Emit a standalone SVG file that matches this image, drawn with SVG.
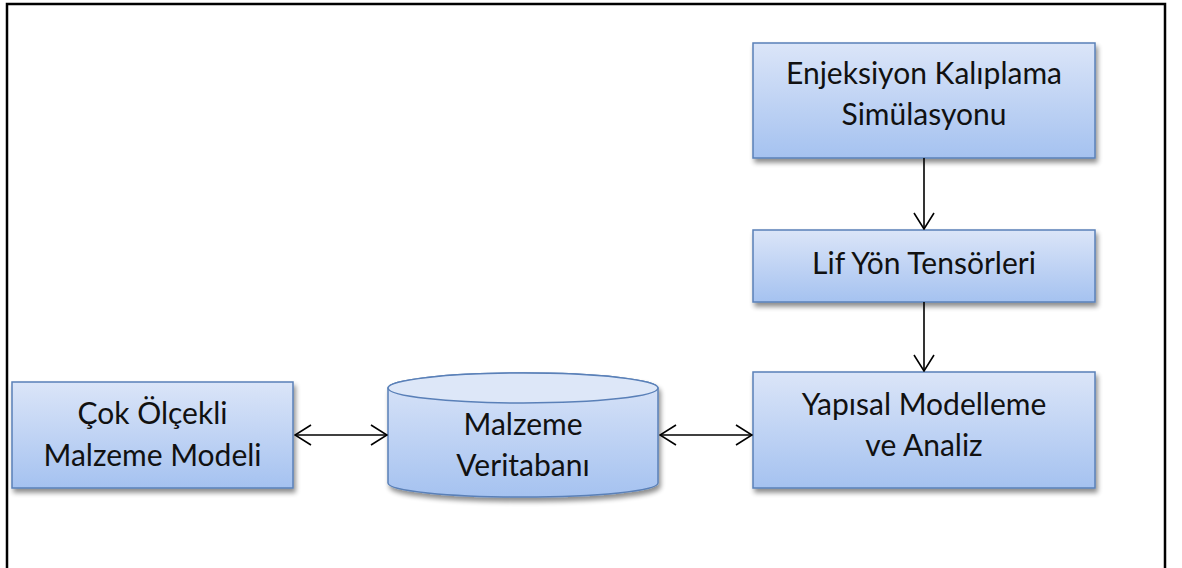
<svg xmlns="http://www.w3.org/2000/svg" width="1182" height="568" viewBox="0 0 1182 568">
<defs>
<linearGradient id="g" x1="0" y1="0" x2="0" y2="1">
<stop offset="0" stop-color="#dbe5f8"/>
<stop offset="1" stop-color="#a5c2f0"/>
</linearGradient>
<filter id="sh" x="-10%" y="-10%" width="125%" height="135%">
<feGaussianBlur in="SourceAlpha" stdDeviation="2.5"/>
<feOffset dx="2" dy="4" result="b"/>
<feComponentTransfer><feFuncA type="linear" slope="0.45"/></feComponentTransfer>
<feMerge><feMergeNode/><feMergeNode in="SourceGraphic"/></feMerge>
</filter>
<marker id="ah" viewBox="0 0 18 22" refX="17" refY="11" markerWidth="18" markerHeight="22" markerUnits="userSpaceOnUse" orient="auto-start-reverse">
<path d="M1,1 L17,11 L1,21" fill="none" stroke="#000" stroke-width="1.6"/>
</marker>
</defs>
<style>
.box{fill:url(#g);stroke:#5a80b8;stroke-width:1.5;filter:url(#sh)}
.t{font-family:Lato,"Open Sans",sans-serif;font-size:30px;fill:#111;text-anchor:middle}
.c{stroke:#000;stroke-width:1.6;fill:none;marker-end:url(#ah)}
.cb{stroke:#000;stroke-width:1.6;fill:none;marker-end:url(#ah);marker-start:url(#ah)}
</style>
<rect x="0" y="0" width="1182" height="568" fill="#fff"/>
<path d="M7,568 V4 H1165 V568" fill="none" stroke="#000" stroke-width="2.5"/>
<g id="n1">
<rect class="box" x="753" y="43" width="342" height="115"/>
<text class="t" x="924" y="84">Enjeksiyon Kalıplama</text>
<text class="t" x="924" y="125">Simülasyonu</text>
</g>
<g id="n2">
<rect class="box" x="753" y="230" width="342" height="72"/>
<text class="t" x="924" y="274">Lif Yön Tensörleri</text>
</g>
<g id="n3">
<rect class="box" x="753" y="372" width="342" height="116"/>
<text class="t" x="924" y="415">Yapısal Modelleme</text>
<text class="t" x="924" y="456">ve Analiz</text>
</g>
<g id="n4">
<rect class="box" x="12" y="382" width="281" height="106"/>
<text class="t" x="152.5" y="424">Çok Ölçekli</text>
<text class="t" x="152.5" y="466">Malzeme Modeli</text>
</g>
<g id="n5">
<path class="box" d="M388,388 A135,15 0 0 1 658,388 V483 A135,14 0 0 1 388,483 Z"/>
<ellipse cx="523" cy="388" rx="135" ry="15" fill="#dde7f8" stroke="#5a80b8" stroke-width="1.5"/>
<text class="t" x="523" y="435">Malzeme</text>
<text class="t" x="523" y="476">Veritabanı</text>
</g>
<g id="connectors">
<line class="c" x1="924" y1="158" x2="924" y2="229"/>
<line class="c" x1="924" y1="302" x2="924" y2="371"/>
<line class="cb" x1="295" y1="435" x2="387" y2="435"/>
<line class="cb" x1="660" y1="435" x2="752" y2="435"/>
</g>
</svg>
